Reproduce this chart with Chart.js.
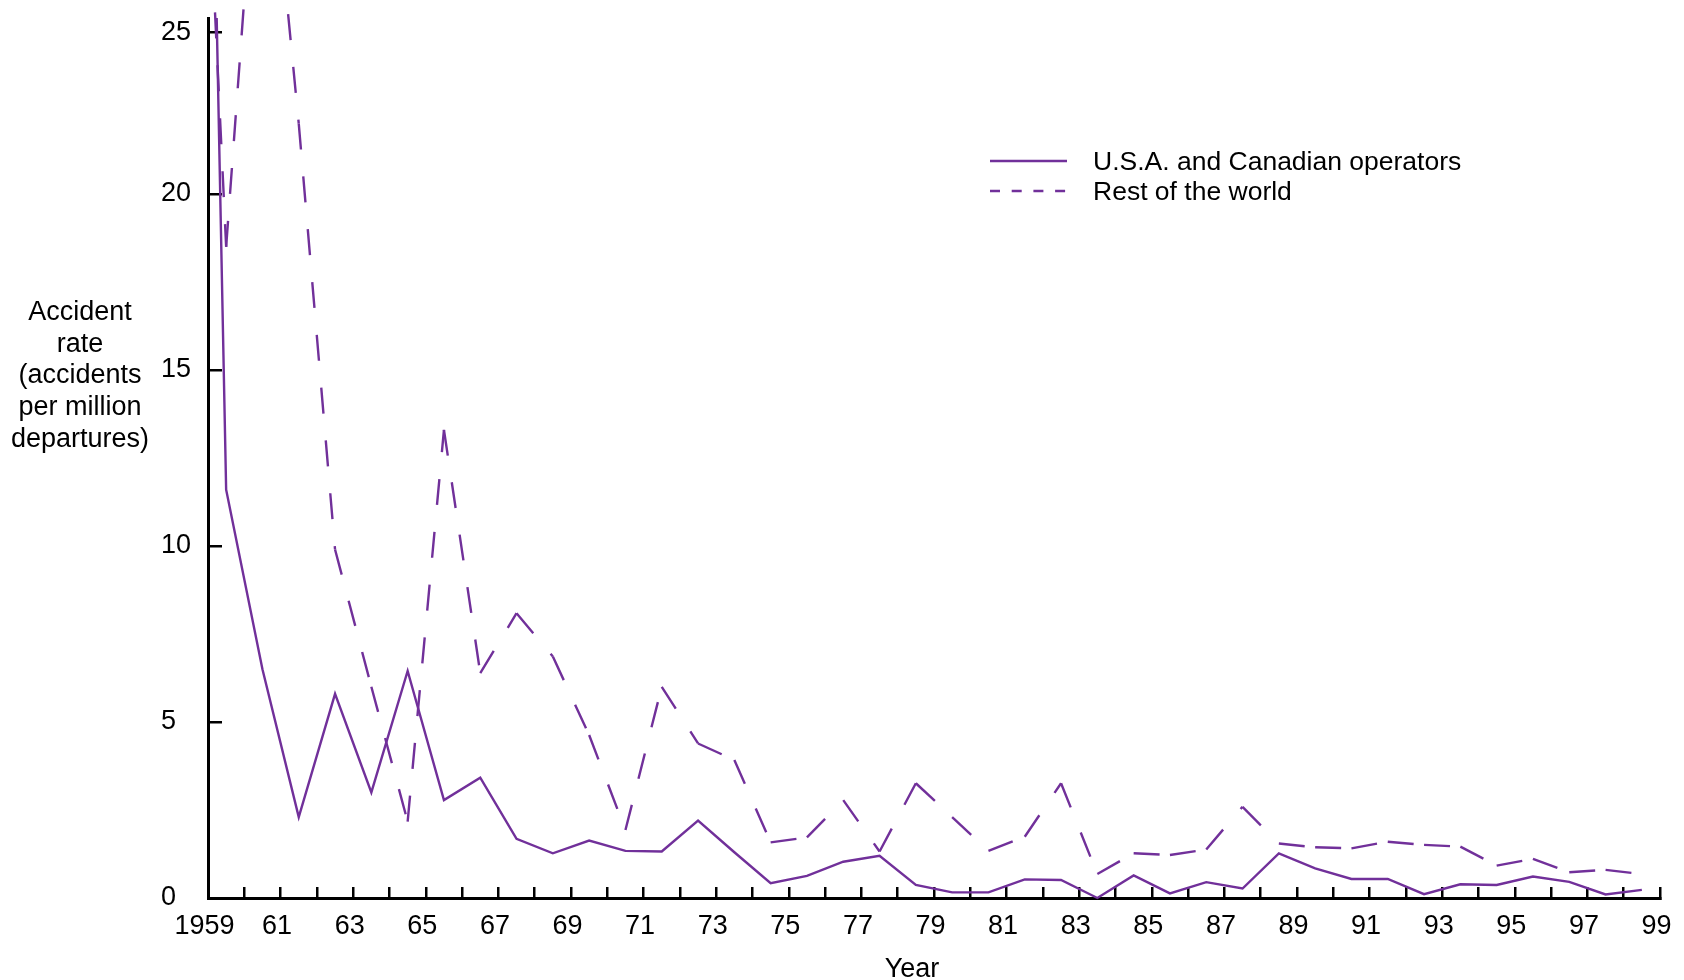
<!DOCTYPE html>
<html>
<head>
<meta charset="utf-8">
<title>Accident rates by year</title>
<script src="https://cdn.jsdelivr.net/npm/chart.js@4.4.1/dist/chart.umd.min.js"></script>
<style>
  html, body { margin: 0; padding: 0; background: #fff; }
  #wrap { width: 1684px; height: 980px; }
</style>
</head>
<body>
<div id="wrap"><canvas id="myChart" width="1684" height="980"></canvas></div>
<script>
// one value per year; the source plots each year half a tick left of its label
var years = [1959, 1960, 1961, 1962, 1963, 1964, 1965, 1966, 1967, 1968,
             1969, 1970, 1971, 1972, 1973, 1974, 1975, 1976, 1977, 1978,
             1979, 1980, 1981, 1982, 1983, 1984, 1985, 1986, 1987, 1988,
             1989, 1990, 1991, 1992, 1993, 1994, 1995, 1996, 1997, 1998, 1999];
var usaRates = [63, 11.6, 6.5, 2.3, 5.8, 3.0, 6.45, 2.78, 3.42, 1.68,
                1.27, 1.63, 1.34, 1.32, 2.2, 1.3, 0.42, 0.63, 1.03, 1.2,
                0.37, 0.16, 0.16, 0.53, 0.51, 0.0, 0.64, 0.13, 0.45, 0.27,
                1.27, 0.84, 0.54, 0.54, 0.11, 0.39, 0.37, 0.61, 0.46, 0.1, 0.23];
var worldRates = [40.2, 18.5, 32.6, 22.0, 9.9, 6.0, 2.17, 13.3, 6.39, 8.09,
                  6.86, 4.63, 1.93, 6.0, 4.39, 3.92, 1.58, 1.72, 2.78, 1.32,
                  3.26, 2.3, 1.34, 1.74, 3.26, 0.68, 1.27, 1.22, 1.38, 2.59,
                  1.55, 1.44, 1.41, 1.6, 1.51, 1.46, 0.92, 1.11, 0.73, 0.8, 0.68];
var seriesNames = ['U.S.A. and Canadian operators', 'Rest of the world'];

var xTickYears = years;
var xTickLabels = ['1959', '61', '63', '65', '67', '69', '71', '73', '75', '77',
                   '79', '81', '83', '85', '87', '89', '91', '93', '95', '97', '99'];
// the top tick sits a little under 25 in the source
var yTickValues = [0, 5, 10, 15, 20, 24.6];
var yTickLabels = ['0', '5', '10', '15', '20', '25'];
var yTitleLines = ['Accident', 'rate', '(accidents', 'per million', 'departures)'];
var xTitle = 'Year';

var purple = '#71309a';
var fontFamily = '"Liberation Sans", Arial, Helvetica, sans-serif';
Chart.defaults.font.family = fontFamily;
Chart.defaults.color = '#000';

function toPoints(values) {
    return years.map(function (y, i) { return { x: y - 0.5, y: values[i] }; });
}

// titles and legend are placed by hand like in the source
var extraText = {
    id: 'extraText',
    afterDraw: function (chart) {
        var c = chart.ctx;
        var ds = chart.data.datasets;
        c.save();
        c.fillStyle = '#000';
        c.font = '27px ' + fontFamily;
        c.textAlign = 'center';
        c.textBaseline = 'alphabetic';
        yTitleLines.forEach(function (line, i) {
            c.fillText(line, 80, 320 + i * 31.7);
        });
        c.fillText(xTitle, 912, 977);

        var rows = [161, 191];
        var legendDash = [[], [10, 11.7]];
        c.font = '26.5px ' + fontFamily;
        c.textAlign = 'left';
        rows.forEach(function (y, i) {
            c.strokeStyle = ds[i].borderColor;
            c.lineWidth = ds[i].borderWidth;
            c.setLineDash(legendDash[i]);
            c.beginPath();
            c.moveTo(990, y);
            c.lineTo(1067, y);
            c.stroke();
            c.fillText(ds[i].label, 1093, y + 8.5);
        });
        c.restore();
    }
};

var ctx = document.getElementById('myChart').getContext('2d');
var myChart = new Chart(ctx, {
    type: 'line',
    data: {
        datasets: [
            {
                label: seriesNames[0],
                data: toPoints(usaRates),
                borderColor: purple,
                borderWidth: 2.4,
                pointRadius: 0,
                tension: 0,
                clip: { left: 0, top: 0, right: 4, bottom: 4 }
            },
            {
                label: seriesNames[1],
                data: toPoints(worldRates),
                borderColor: purple,
                borderWidth: 2.4,
                borderDash: [26, 27],
                // dash pattern starts over at every point
                segment: {
                    borderDashOffset: function (c) { return c.p0DataIndex * 1e-4; }
                },
                pointRadius: 0,
                tension: 0,
                clip: { left: 0, top: 10, right: 4, bottom: 4 }
            }
        ]
    },
    options: {
        responsive: false,
        animation: false,
        devicePixelRatio: 1,
        layout: { padding: { left: 161, top: 18, right: 24, bottom: 0 } },
        plugins: {
            legend: { display: false },
            tooltip: { enabled: false }
        },
        scales: {
            x: {
                type: 'linear',
                min: 1959,
                max: 1999,
                afterBuildTicks: function (s) {
                    s.ticks = xTickYears.map(function (v) { return { value: v }; });
                },
                afterFit: function (s) {
                    s.height = 82;
                    s.paddingLeft = 0;
                    s.paddingRight = 0;
                },
                border: { display: true, color: '#000', width: 3 },
                grid: {
                    drawOnChartArea: false,
                    drawTicks: true,
                    tickLength: -11,
                    color: '#000',
                    tickColor: '#000',
                    lineWidth: 2.5
                },
                ticks: {
                    autoSkip: false,
                    maxRotation: 0,
                    minRotation: 0,
                    padding: 23,
                    labelOffset: -3.5,
                    color: '#000',
                    font: { size: 27 },
                    callback: function (v) {
                        var k = v - 1959;
                        return k % 2 === 0 ? xTickLabels[k / 2] : '';
                    }
                }
            },
            y: {
                min: 0,
                max: 25,
                afterBuildTicks: function (s) {
                    s.ticks = yTickValues.map(function (v) { return { value: v }; });
                },
                afterFit: function (s) { s.width = 47; },
                border: { display: true, color: '#000', width: 3 },
                grid: {
                    drawOnChartArea: false,
                    drawTicks: true,
                    tickLength: -14,
                    color: '#000',
                    tickColor: '#000',
                    lineWidth: 2.5
                },
                ticks: {
                    crossAlign: 'far',
                    padding: 0,
                    color: '#000',
                    font: { size: 27 },
                    callback: function (v, i) { return yTickLabels[i]; }
                }
            }
        }
    },
    plugins: [extraText]
});
</script>
</body>
</html>
